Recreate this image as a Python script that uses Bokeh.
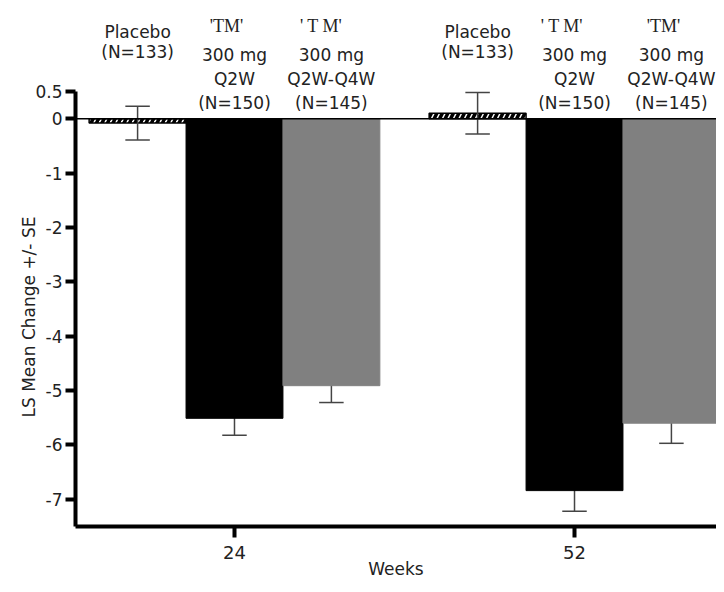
from bokeh.plotting import figure
from bokeh.models import ColumnDataSource, FixedTicker, Span, LabelSet, Title
from bokeh.core.properties import value
from bokeh.embed import file_html
from bokeh.resources import INLINE

# ---------------- data ----------------
weeks = ["24", "52"]
placebo_mean = [-0.08, 0.10]
placebo_se = [0.31, 0.38]
q2w_mean = [-5.51, -6.84]
q2w_se = [0.31, 0.38]
q2w_q4w_mean = [-4.91, -5.60]
q2w_q4w_se = [0.31, 0.37]

placebo_header = ["Placebo", "(N=133)"]
q2w_header = ["300 mg", "Q2W", "(N=150)"]
q2w_q4w_header = ["300 mg", "Q2W-Q4W", "(N=145)"]
tm_q2w = ["'TM'", "'   T M'"]        # per week
tm_q2w_q4w = ["'  T M'", "'TM'"]      # per week
y_ticks = [0.5, 0, -1, -2, -3, -4, -5, -6, -7]
y_label = "LS Mean Change +/- SE"
x_label = "Weeks"

# ---------------- layout ----------------
BW = 0.285
offsets = [-BW, 0.0, BW]
CAP = 0.036
FONT = "DejaVu Sans"
TXT = "#222222"

p = figure(width=716, height=584, x_range=(-0.4676, 1.4176), y_range=(-7.5, 2.174),
           output_backend="svg", toolbar_location=None,
           min_border_left=75, min_border_right=0, min_border_top=0, min_border_bottom=58)
p.outline_line_color = None
p.xgrid.visible = False
p.ygrid.visible = False
p.background_fill_color = "white"

def xs(k):
    return [i + offsets[k] for i in range(len(weeks))]

# placebo bars (hatched)
p.vbar(x=xs(0), top=placebo_mean, bottom=0, width=BW, fill_color="white",
       line_color="black", line_width=1.5, hatch_pattern="/", hatch_color="black",
       hatch_weight=3.5, hatch_scale=11)

# error bars
def whiskers(k, mean, se):
    x = xs(k)
    lo = [m - s for m, s in zip(mean, se)]
    hi = [m + s for m, s in zip(mean, se)]
    p.segment(x0=x, y0=lo, x1=x, y1=hi, line_color="#444444", line_width=1.5)
    p.segment(x0=[v - CAP for v in x], y0=lo, x1=[v + CAP for v in x], y1=lo,
              line_color="#444444", line_width=1.5)
    p.segment(x0=[v - CAP for v in x], y0=hi, x1=[v + CAP for v in x], y1=hi,
              line_color="#444444", line_width=1.5)

whiskers(0, placebo_mean, placebo_se)
whiskers(1, q2w_mean, q2w_se)
whiskers(2, q2w_q4w_mean, q2w_q4w_se)

p.vbar(x=xs(1), top=0, bottom=q2w_mean, width=BW, fill_color="black", line_color="black")
p.vbar(x=xs(2), top=0, bottom=q2w_q4w_mean, width=BW, fill_color="#808080", line_color="#808080")

p.add_layout(Span(location=0, dimension="width", line_color="black", line_width=1.5))

# headers above bars
sans_x, sans_y, sans_t = [], [], []
placebo_rows = [1.49, 1.12]
treat_rows = [1.067, 0.616, 0.184]
for i in range(len(weeks)):
    for t, y in zip(placebo_header, placebo_rows):
        sans_x.append(xs(0)[i]); sans_y.append(y); sans_t.append(t)
    for t, y in zip(q2w_header, treat_rows):
        sans_x.append(xs(1)[i]); sans_y.append(y); sans_t.append(t)
    for t, y in zip(q2w_q4w_header, treat_rows):
        sans_x.append(xs(2)[i]); sans_y.append(y); sans_t.append(t)
p.add_layout(LabelSet(source=ColumnDataSource(dict(x=sans_x, y=sans_y, t=sans_t)),
                      x="x", y="y", text="t", text_align="center", text_baseline="alphabetic",
                      text_font=value(FONT), text_font_size="17px", text_color=TXT))

tm_x = xs(1) + xs(2)
tm_t = tm_q2w + tm_q2w_q4w
tm_y = [1.60] * len(tm_x)
p.add_layout(LabelSet(source=ColumnDataSource(dict(x=tm_x, y=tm_y, t=tm_t)),
                      x="x", y="y", text="t", text_align="center", text_baseline="alphabetic",
                      x_offset=-8, text_font=value("Liberation Serif"), text_font_size="18px",
                      text_color=TXT))

# axes
p.yaxis.ticker = FixedTicker(ticks=y_ticks)
p.yaxis.major_label_overrides = {t: f"{t:g}" for t in y_ticks}
p.yaxis.bounds = (-7.5, 0.5)
p.xaxis.ticker = FixedTicker(ticks=list(range(len(weeks))))
p.xaxis.major_label_overrides = {i: w for i, w in enumerate(weeks)}
p.xaxis.axis_label = x_label

for ax in (p.xaxis[0], p.yaxis[0]):
    ax.axis_line_width = 4
    ax.axis_line_color = "black"
    ax.major_tick_line_width = 4
    ax.major_tick_line_color = "black"
    ax.major_tick_in = 0
    ax.minor_tick_line_color = None
    ax.major_label_text_font = FONT
    ax.major_label_text_color = TXT
    ax.axis_label_text_font = FONT
    ax.axis_label_text_font_style = "normal"
    ax.axis_label_text_color = TXT
    ax.axis_label_text_font_size = "17px"

p.yaxis.major_tick_out = 10
p.yaxis.major_label_standoff = 3
p.yaxis.major_label_text_font_size = "17px"

p.xaxis.major_tick_out = 11
p.xaxis.major_label_standoff = 8
p.xaxis.major_label_text_font_size = "18px"
p.xaxis.axis_label_standoff = -3

ytitle = Title(text=y_label, align="left", offset=109, text_font=FONT,
               text_font_size="17px", text_font_style="normal", text_color=TXT, standoff=-12)
p.add_layout(ytitle, "left")

open("out.html", "w").write(file_html(p, INLINE))
